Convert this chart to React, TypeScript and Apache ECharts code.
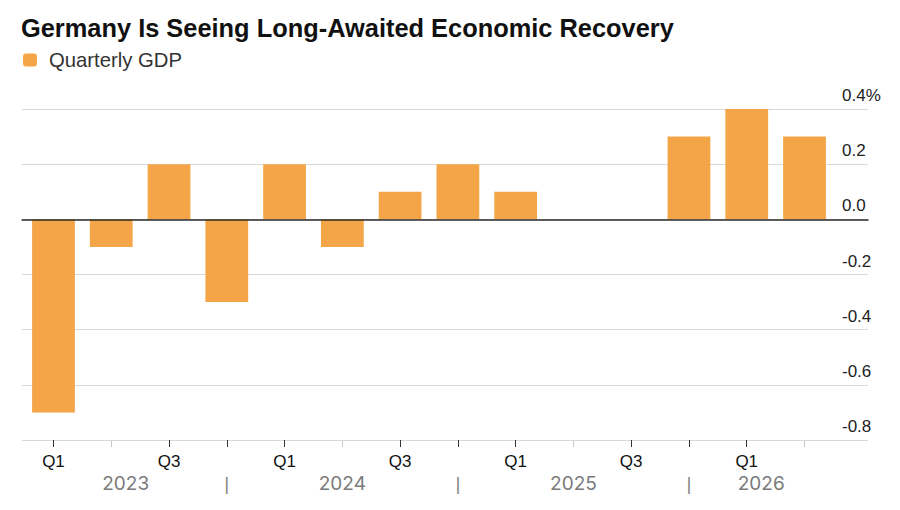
import React, { useEffect, useRef } from "react";
import * as echarts from "echarts";

const TITLE = "Germany Is Seeing Long-Awaited Economic Recovery";
const SERIES_NAME = "Quarterly GDP";
const periods = [
  "2023 Q1", "2023 Q2", "2023 Q3", "2023 Q4",
  "2024 Q1", "2024 Q2", "2024 Q3", "2024 Q4",
  "2025 Q1", "2025 Q2", "2025 Q3", "2025 Q4",
  "2026 Q1", "2026 Q2",
];
const gdp = [-0.7, -0.1, 0.2, -0.3, 0.2, -0.1, 0.1, 0.2, 0.1, 0, 0, 0.3, 0.4, 0.3];
const yTicks = [-0.8, -0.6, -0.4, -0.2, 0.0, 0.2, 0.4];

const FONT = "'Liberation Sans', Arial, Helvetica, sans-serif";
const WIDE_FONT = "Inter, 'Liberation Sans', Arial, sans-serif";
const ORANGE = "#f3a547";

// year label positions derived from the categories (index units)
function yearMarks() {
  const years: string[] = [];
  const lastIdx: number[] = [];
  periods.forEach((p, i) => {
    const y = p.split(" ")[0];
    if (years[years.length - 1] !== y) {
      years.push(y);
      lastIdx.push(i);
    } else {
      lastIdx[lastIdx.length - 1] = i;
    }
  });
  const labels: Record<string, string> = {};
  let start = -0.5;
  years.forEach((y, k) => {
    const isLast = k === years.length - 1;
    const end = isLast ? periods.length - 0.5 : lastIdx[k];
    labels[((start + end) / 2).toFixed(2)] = y;
    if (!isLast) labels[end.toFixed(2)] = "{sep||}";
    start = end;
  });
  return labels;
}

export default function App() {
  const ref = useRef<HTMLDivElement>(null);
  useEffect(() => {
    document.body.style.margin = "0";
    const chart = echarts.init(ref.current!, undefined, { renderer: "svg" });
    const marks = yearMarks();
    const yMin = yTicks[0];
    const yMax = yTicks[yTicks.length - 1];
    chart.setOption({
      animation: false,
      backgroundColor: "#ffffff",
      textStyle: { fontFamily: FONT },
      title: {
        text: TITLE,
        left: 16,
        top: 10,
        textStyle: { fontSize: 25.4, fontWeight: "bold", color: "#111", fontFamily: FONT },
      },
      legend: {
        left: 23,
        top: 50,
        padding: 0,
        icon: "roundRect",
        itemWidth: 14,
        itemHeight: 13,
        textStyle: { fontSize: 20.3, color: "#333", fontFamily: FONT, padding: [0, 0, 0, 7] },
        data: [SERIES_NAME],
      },
      grid: [
        { left: 24.6, right: 66.6, top: 109, bottom: 70 },
        { left: 22, right: 32, top: 109, bottom: 70 },
      ],
      xAxis: [
        {
          type: "category",
          gridIndex: 0,
          position: "bottom",
          data: periods,
          axisLine: { show: false, onZero: false },
          axisTick: {
            show: true,
            alignWithLabel: true,
            length: 7,
            interval: (i: number) => i % 4 !== 1,
            lineStyle: { color: "#333", width: 1 },
          },
          axisLabel: {
            interval: (i: number) => i % 2 === 0,
            formatter: (v: string) => v.split(" ")[1],
            fontSize: 17,
            color: "#111",
            margin: 13,
            fontFamily: FONT,
          },
        },
        {
          type: "category",
          gridIndex: 0,
          position: "bottom",
          data: periods,
          axisLine: { show: false, onZero: false },
          axisTick: {
            show: true,
            alignWithLabel: true,
            length: 7,
            interval: (i: number) => i % 4 === 1,
            lineStyle: { color: "#c8c8c8", width: 1 },
          },
          axisLabel: { show: false },
        },
        {
          type: "value",
          gridIndex: 0,
          position: "bottom",
          min: -0.5,
          max: periods.length - 0.5,
          interval: 0.25,
          axisLine: { show: false, onZero: false },
          axisTick: { show: false },
          splitLine: { show: false },
          axisLabel: {
            showMinLabel: true,
            showMaxLabel: true,
            margin: 34,
            fontSize: 19,
            color: "#7a7a7a",
            fontFamily: WIDE_FONT,
            formatter: (v: number) => marks[v.toFixed(2)] || "",
            rich: {
              sep: { fontSize: 19, color: "#888", fontFamily: FONT },
            },
          },
        },
        {
          type: "category",
          gridIndex: 1,
          data: periods,
          z: 5,
          axisLine: { show: true, onZero: true, lineStyle: { color: "#2a2a2a", width: 1.5 } },
          axisTick: { show: false },
          axisLabel: { show: false },
        },
      ],
      yAxis: [
        { type: "value", gridIndex: 0, min: yMin, max: yMax, interval: 0.2, show: false },
        {
          type: "value",
          gridIndex: 1,
          position: "right",
          min: yMin,
          max: yMax,
          interval: 0.2,
          axisLine: { show: false },
          axisTick: { show: false },
          splitLine: { show: true, lineStyle: { color: "#d9d9d9", width: 1 } },
          axisLabel: {
            margin: -26,
            align: "left",
            verticalAlign: "bottom",
            padding: [0, 0, 5, 0],
            fontSize: 17,
            color: "#222",
            fontFamily: FONT,
            formatter: (v: number) => {
              const s = (Math.round(v * 10) / 10).toFixed(1);
              return Math.abs(v - yMax) < 1e-9 ? s + "%" : s;
            },
          },
        },
      ],
      series: [
        {
          name: SERIES_NAME,
          type: "bar",
          xAxisIndex: 0,
          yAxisIndex: 0,
          data: gdp,
          barCategoryGap: "26%",
          itemStyle: { color: ORANGE },
        },
      ],
    });
    return () => chart.dispose();
  }, []);
  return <div ref={ref} style={{ width: 900, height: 510 }} />;
}
